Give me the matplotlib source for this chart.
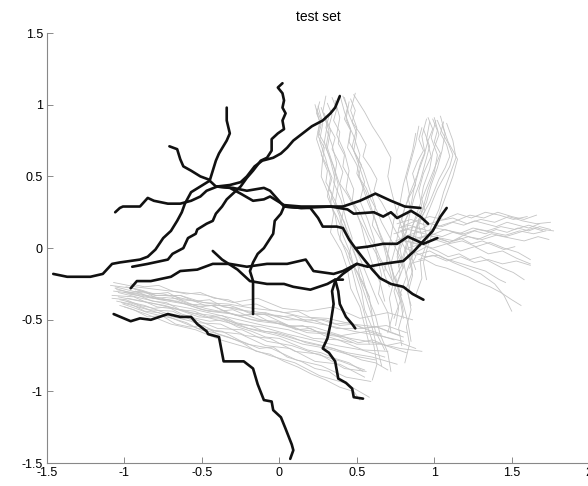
import matplotlib
matplotlib.use("Agg")
import matplotlib.pyplot as plt
from matplotlib.ticker import FormatStrFormatter

plt.rcParams['font.family'] = ['Liberation Sans', 'DejaVu Sans']

# training trajectories (grey) - lower band
gray_lower = [
    ([-1.07, -0.93, -0.78, -0.62, -0.47, -0.30, -0.14, 0.02, 0.18, 0.35, 0.52, 0.70, 0.86],
     [-0.24, -0.27, -0.29, -0.31, -0.33, -0.38, -0.35, -0.42, -0.44, -0.41, -0.49, -0.45, -0.50]),
    ([-1.05, -0.90, -0.76, -0.60, -0.44, -0.28, -0.10, 0.06, 0.22, 0.40, 0.57, 0.74],
     [-0.29, -0.32, -0.35, -0.39, -0.40, -0.47, -0.46, -0.54, -0.55, -0.61, -0.58, -0.64]),
    ([-1.08, -0.94, -0.79, -0.63, -0.48, -0.33, -0.17, -0.01, 0.15, 0.31, 0.47, 0.62],
     [-0.33, -0.34, -0.41, -0.43, -0.48, -0.52, -0.57, -0.61, -0.67, -0.70, -0.75, -0.78]),
    ([-1.02, -0.88, -0.72, -0.57, -0.41, -0.25, -0.09, 0.07, 0.23, 0.39, 0.55],
     [-0.38, -0.42, -0.47, -0.51, -0.58, -0.60, -0.68, -0.70, -0.79, -0.81, -0.90]),
    ([-1.00, -0.86, -0.70, -0.54, -0.38, -0.22, -0.06, 0.10, 0.26, 0.42, 0.58],
     [-0.41, -0.46, -0.53, -0.57, -0.64, -0.69, -0.75, -0.80, -0.89, -0.94, -1.04]),
    ([-1.06, -0.91, -0.75, -0.59, -0.43, -0.27, -0.11, 0.05, 0.21, 0.37, 0.53, 0.69, 0.82],
     [-0.27, -0.31, -0.32, -0.36, -0.39, -0.43, -0.45, -0.50, -0.50, -0.56, -0.56, -0.54, -0.59]),
    ([-1.04, -0.89, -0.73, -0.58, -0.42, -0.26, -0.10, 0.06, 0.22, 0.38, 0.54, 0.70],
     [-0.31, -0.35, -0.39, -0.42, -0.46, -0.50, -0.54, -0.57, -0.63, -0.64, -0.71, -0.72]),
    ([-0.98, -0.84, -0.68, -0.52, -0.36, -0.20, -0.04, 0.12, 0.28, 0.44, 0.60, 0.76],
     [-0.35, -0.38, -0.42, -0.48, -0.49, -0.56, -0.59, -0.64, -0.68, -0.73, -0.76, -0.81]),
    ([-1.03, -0.87, -0.72, -0.56, -0.40, -0.24, -0.08, 0.08, 0.24, 0.40, 0.55],
     [-0.36, -0.40, -0.46, -0.49, -0.56, -0.57, -0.65, -0.68, -0.74, -0.79, -0.85]),
    ([-0.95, -0.80, -0.64, -0.48, -0.32, -0.16, 0.00, 0.16, 0.32, 0.48, 0.64, 0.80],
     [-0.28, -0.33, -0.33, -0.40, -0.40, -0.46, -0.47, -0.51, -0.54, -0.58, -0.61, -0.65]),
    ([-1.01, -0.85, -0.69, -0.53, -0.37, -0.21, -0.05, 0.11, 0.27, 0.43, 0.59],
     [-0.39, -0.45, -0.49, -0.56, -0.58, -0.67, -0.70, -0.78, -0.82, -0.90, -0.93]),
    ([-1.07, -0.92, -0.77, -0.61, -0.46, -0.30, -0.14, 0.02, 0.18, 0.34, 0.50, 0.66, 0.82],
     [-0.30, -0.32, -0.36, -0.39, -0.44, -0.46, -0.51, -0.53, -0.59, -0.60, -0.67, -0.67, -0.73]),
    ([-0.97, -0.82, -0.66, -0.50, -0.34, -0.18, -0.02, 0.14, 0.30, 0.46, 0.62, 0.78, 0.92],
     [-0.32, -0.35, -0.37, -0.43, -0.45, -0.50, -0.51, -0.57, -0.59, -0.63, -0.66, -0.70, -0.72]),
    ([-1.09, -0.95, -0.80, -0.64, -0.49, -0.33, -0.17, -0.01, 0.15, 0.31, 0.47, 0.63, 0.78],
     [-0.26, -0.28, -0.33, -0.33, -0.38, -0.39, -0.42, -0.44, -0.48, -0.49, -0.53, -0.55, -0.61]),
    ([-0.99, -0.84, -0.69, -0.53, -0.38, -0.22, -0.06, 0.10, 0.26, 0.42, 0.56],
     [-0.37, -0.43, -0.44, -0.52, -0.53, -0.61, -0.63, -0.72, -0.74, -0.84, -0.86]),
    ([-1.04, -0.90, -0.74, -0.58, -0.43, -0.27, -0.11, 0.05, 0.21, 0.37, 0.53, 0.68],
     [-0.34, -0.37, -0.40, -0.45, -0.47, -0.53, -0.55, -0.60, -0.64, -0.68, -0.71, -0.76]),
    ([-1.06, -0.97, -0.88, -0.79, -0.70, -0.61, -0.52, -0.43, -0.34, -0.25, -0.16, -0.07, 0.02,
      0.11, 0.20, 0.29, 0.38, 0.47],
     [-0.28, -0.31, -0.30, -0.35, -0.34, -0.38, -0.41, -0.40, -0.45, -0.47, -0.46, -0.51, -0.53,
      -0.57, -0.56, -0.61, -0.64, -0.66]),
    ([-1.03, -0.94, -0.85, -0.76, -0.67, -0.58, -0.49, -0.40, -0.31, -0.22, -0.13, -0.04, 0.05,
      0.14, 0.23, 0.32, 0.41],
     [-0.40, -0.43, -0.48, -0.47, -0.53, -0.55, -0.54, -0.60, -0.63, -0.66, -0.70, -0.69, -0.76,
      -0.79, -0.84, -0.86, -0.93]),
    ([-0.96, -0.87, -0.78, -0.69, -0.60, -0.51, -0.42, -0.33, -0.24, -0.15, -0.06, 0.03, 0.12,
      0.21, 0.30, 0.39, 0.48, 0.57, 0.66],
     [-0.25, -0.27, -0.26, -0.30, -0.32, -0.31, -0.35, -0.36, -0.40, -0.39, -0.43, -0.45, -0.44,
      -0.49, -0.50, -0.54, -0.53, -0.57, -0.60]),
    ([-1.08, -0.99, -0.90, -0.81, -0.72, -0.63, -0.54, -0.45, -0.36, -0.27, -0.18, -0.09, 0.00,
      0.09, 0.18, 0.27, 0.36, 0.45, 0.54],
     [-0.35, -0.36, -0.40, -0.42, -0.41, -0.46, -0.49, -0.51, -0.50, -0.55, -0.58, -0.62, -0.63,
      -0.67, -0.71, -0.73, -0.77, -0.80, -0.86]),
    ([-1.00, -0.91, -0.82, -0.73, -0.64, -0.55, -0.46, -0.37, -0.28, -0.19, -0.10, -0.01, 0.08,
      0.17, 0.26, 0.35, 0.44, 0.53, 0.62, 0.70],
     [-0.31, -0.33, -0.37, -0.38, -0.43, -0.44, -0.48, -0.47, -0.52, -0.54, -0.58, -0.59, -0.62,
      -0.66, -0.68, -0.70, -0.74, -0.78, -0.80, -0.85]),
    ([-0.93, -0.84, -0.75, -0.66, -0.57, -0.48, -0.39, -0.30, -0.21, -0.12, -0.03, 0.06, 0.15,
      0.24, 0.33, 0.42, 0.51, 0.60, 0.69, 0.78, 0.88],
     [-0.30, -0.34, -0.36, -0.35, -0.39, -0.42, -0.44, -0.43, -0.47, -0.50, -0.52, -0.55, -0.54,
      -0.58, -0.61, -0.62, -0.66, -0.64, -0.68, -0.66, -0.70]),
    ([-1.05, -0.96, -0.87, -0.78, -0.69, -0.60, -0.51, -0.42, -0.33, -0.24, -0.15, -0.06, 0.03,
      0.12, 0.21, 0.30, 0.39, 0.48, 0.52],
     [-0.37, -0.39, -0.44, -0.45, -0.49, -0.52, -0.57, -0.59, -0.62, -0.66, -0.72, -0.74, -0.79,
      -0.83, -0.88, -0.92, -0.97, -1.00, -1.06]),
    ([-0.99, -0.90, -0.81, -0.72, -0.63, -0.54, -0.45, -0.36, -0.27, -0.18, -0.09, 0.00, 0.09,
      0.18, 0.27, 0.36, 0.45, 0.54, 0.63, 0.72, 0.80],
     [-0.27, -0.29, -0.32, -0.31, -0.36, -0.37, -0.36, -0.41, -0.42, -0.46, -0.45, -0.48, -0.47,
      -0.51, -0.50, -0.53, -0.52, -0.56, -0.55, -0.59, -0.62]),
]

# V-shaped class, left arm
gray_v_left = [
    ([0.30, 0.28, 0.32, 0.30, 0.35, 0.38, 0.36, 0.42, 0.45, 0.50, 0.52, 0.58, 0.60],
     [1.06, 0.95, 0.82, 0.70, 0.57, 0.44, 0.31, 0.18, 0.05, -0.08, -0.21, -0.34, -0.47]),
    ([0.49, 0.46, 0.50, 0.47, 0.51, 0.55, 0.52, 0.57, 0.61, 0.63, 0.66, 0.64, 0.70, 0.72],
     [1.08, 0.96, 0.84, 0.71, 0.59, 0.46, 0.33, 0.20, 0.07, -0.06, -0.19, -0.32, -0.45, -0.58]),
    ([0.23, 0.26, 0.24, 0.28, 0.27, 0.32, 0.35, 0.33, 0.40, 0.44, 0.46, 0.52, 0.55, 0.58],
     [1.00, 0.88, 0.76, 0.63, 0.50, 0.37, 0.24, 0.11, -0.02, -0.15, -0.28, -0.41, -0.54, -0.67]),
    ([0.36, 0.39, 0.37, 0.42, 0.45, 0.43, 0.49, 0.53, 0.56, 0.60, 0.65, 0.68],
     [1.03, 0.91, 0.79, 0.67, 0.54, 0.41, 0.28, 0.15, 0.02, -0.11, -0.24, -0.37]),
    ([0.27, 0.31, 0.29, 0.33, 0.36, 0.34, 0.39, 0.41, 0.46, 0.49, 0.53, 0.55, 0.60, 0.63, 0.66],
     [0.98, 0.86, 0.74, 0.61, 0.48, 0.35, 0.22, 0.09, -0.04, -0.17, -0.30, -0.43, -0.56, -0.69, -0.82]),
    ([0.42, 0.45, 0.50, 0.48, 0.54, 0.58, 0.62, 0.60, 0.67, 0.70, 0.73, 0.78, 0.80],
     [1.05, 0.93, 0.80, 0.68, 0.55, 0.42, 0.29, 0.16, 0.03, -0.10, -0.23, -0.36, -0.49]),
    ([0.33, 0.30, 0.34, 0.37, 0.35, 0.40, 0.43, 0.47, 0.45, 0.51, 0.55, 0.59, 0.62, 0.68],
     [0.96, 0.84, 0.72, 0.59, 0.46, 0.33, 0.20, 0.07, -0.06, -0.19, -0.32, -0.45, -0.58, -0.71]),
    ([0.39, 0.42, 0.46, 0.44, 0.50, 0.53, 0.57, 0.62, 0.66, 0.71, 0.74, 0.79],
     [1.07, 0.95, 0.83, 0.70, 0.58, 0.45, 0.32, 0.19, 0.06, -0.07, -0.20, -0.33]),
    ([0.25, 0.28, 0.26, 0.30, 0.33, 0.31, 0.36, 0.38, 0.43, 0.47, 0.50, 0.54, 0.57, 0.61, 0.63, 0.60],
     [0.99, 0.87, 0.75, 0.62, 0.49, 0.36, 0.23, 0.10, -0.03, -0.16, -0.29, -0.42, -0.55, -0.68, -0.81, -0.92]),
    ([0.45, 0.43, 0.48, 0.52, 0.50, 0.56, 0.60, 0.64, 0.69, 0.72, 0.76, 0.80, 0.83, 0.85],
     [1.02, 0.90, 0.78, 0.65, 0.52, 0.39, 0.26, 0.13, 0.00, -0.13, -0.26, -0.39, -0.52, -0.65]),
    ([0.29, 0.33, 0.31, 0.35, 0.39, 0.42, 0.40, 0.46, 0.50, 0.54, 0.57, 0.62, 0.65, 0.70, 0.72],
     [0.94, 0.82, 0.70, 0.57, 0.44, 0.31, 0.18, 0.05, -0.08, -0.21, -0.34, -0.47, -0.60, -0.73, -0.86]),
    ([0.48, 0.55, 0.60, 0.66, 0.72, 0.70, 0.73, 0.76, 0.80, 0.84, 0.88],
     [1.07, 0.95, 0.85, 0.75, 0.63, 0.50, 0.37, 0.24, 0.11, -0.02, -0.15]),
    ([0.26, 0.24, 0.27, 0.25, 0.29, 0.28, 0.31, 0.30, 0.34, 0.33, 0.37, 0.40, 0.39, 0.44, 0.47,
      0.51, 0.55, 0.58],
     [1.02, 0.94, 0.86, 0.78, 0.70, 0.62, 0.54, 0.46, 0.38, 0.30, 0.22, 0.14, 0.06, -0.02, -0.10,
      -0.18, -0.26, -0.34]),
    ([0.34, 0.37, 0.35, 0.39, 0.38, 0.42, 0.41, 0.45, 0.48, 0.47, 0.52, 0.55, 0.58, 0.62, 0.65,
      0.69, 0.73],
     [1.05, 0.97, 0.89, 0.81, 0.73, 0.65, 0.57, 0.49, 0.41, 0.33, 0.25, 0.17, 0.09, 0.01, -0.07,
      -0.15, -0.23]),
    ([0.41, 0.44, 0.42, 0.46, 0.45, 0.49, 0.53, 0.51, 0.56, 0.59, 0.63, 0.66, 0.70, 0.74, 0.78, 0.80],
     [1.06, 0.98, 0.90, 0.82, 0.74, 0.66, 0.58, 0.50, 0.42, 0.34, 0.26, 0.18, 0.10, 0.02, -0.06, -0.14]),
    ([0.24, 0.27, 0.25, 0.29, 0.27, 0.31, 0.34, 0.32, 0.36, 0.39, 0.42, 0.45, 0.48, 0.52, 0.55,
      0.58, 0.61, 0.64],
     [0.97, 0.89, 0.81, 0.73, 0.65, 0.57, 0.49, 0.41, 0.33, 0.25, 0.17, 0.09, 0.01, -0.07, -0.15,
      -0.23, -0.31, -0.39]),
    ([0.46, 0.49, 0.47, 0.52, 0.56, 0.54, 0.59, 0.63, 0.61, 0.66, 0.70, 0.73, 0.77, 0.81, 0.84],
     [1.04, 0.96, 0.88, 0.80, 0.72, 0.64, 0.56, 0.48, 0.40, 0.32, 0.24, 0.16, 0.08, 0.00, -0.08]),
    ([0.31, 0.34, 0.32, 0.36, 0.34, 0.38, 0.41, 0.39, 0.44, 0.48, 0.51, 0.55, 0.58, 0.62, 0.66,
      0.68, 0.71],
     [1.01, 0.93, 0.85, 0.77, 0.69, 0.61, 0.53, 0.45, 0.37, 0.29, 0.21, 0.13, 0.05, -0.03, -0.11,
      -0.19, -0.27]),
]

# V-shaped class, right arm
gray_v_right = [
    ([1.04, 1.07, 1.05, 1.02, 0.98, 0.95, 0.90, 0.88, 0.84, 0.86, 0.82, 0.85],
     [0.92, 0.80, 0.68, 0.56, 0.44, 0.32, 0.20, 0.08, -0.04, -0.16, -0.28, -0.40]),
    ([0.95, 0.92, 0.94, 0.90, 0.87, 0.85, 0.81, 0.79, 0.76, 0.78, 0.74, 0.77, 0.75],
     [0.90, 0.78, 0.66, 0.54, 0.42, 0.30, 0.18, 0.06, -0.06, -0.18, -0.30, -0.42, -0.54]),
    ([1.08, 1.12, 1.14, 1.10, 1.06, 1.03, 0.98, 0.95, 0.91, 0.92, 0.88],
     [0.87, 0.75, 0.63, 0.51, 0.39, 0.27, 0.15, 0.03, -0.09, -0.21, -0.33]),
    ([0.90, 0.88, 0.85, 0.82, 0.84, 0.80, 0.77, 0.75, 0.72, 0.74, 0.71, 0.73, 0.70],
     [0.85, 0.73, 0.61, 0.49, 0.37, 0.25, 0.13, 0.01, -0.11, -0.23, -0.35, -0.47, -0.59]),
    ([1.00, 1.03, 0.99, 0.97, 0.93, 0.91, 0.87, 0.84, 0.86, 0.82, 0.84],
     [0.91, 0.79, 0.67, 0.55, 0.43, 0.31, 0.19, 0.07, -0.05, -0.17, -0.29]),
    ([0.97, 0.95, 0.98, 0.93, 0.90, 0.92, 0.86, 0.83, 0.80, 0.82, 0.78, 0.80, 0.77, 0.79],
     [0.88, 0.76, 0.64, 0.52, 0.40, 0.28, 0.16, 0.04, -0.08, -0.20, -0.32, -0.44, -0.56, -0.68]),
    ([1.05, 1.09, 1.15, 1.12, 1.08, 1.04, 1.00, 0.96, 0.93, 0.95],
     [0.86, 0.74, 0.62, 0.50, 0.38, 0.26, 0.14, 0.02, -0.10, -0.22]),
    ([0.93, 0.97, 0.94, 0.91, 0.87, 0.84, 0.82, 0.78, 0.80, 0.76, 0.78, 0.74],
     [0.83, 0.71, 0.59, 0.47, 0.35, 0.23, 0.11, -0.01, -0.13, -0.25, -0.37, -0.49]),
    ([1.01, 0.98, 1.02, 1.00, 0.96, 0.93, 0.89, 0.86, 0.84, 0.86, 0.83, 0.85, 0.82, 0.84, 0.81],
     [0.89, 0.77, 0.65, 0.53, 0.41, 0.29, 0.17, 0.05, -0.07, -0.19, -0.31, -0.43, -0.55, -0.67, -0.80]),
    ([0.88, 0.86, 0.83, 0.80, 0.78, 0.74, 0.72, 0.70, 0.68],
     [0.80, 0.68, 0.56, 0.44, 0.32, 0.20, 0.08, -0.04, -0.16]),
    ([0.99, 1.02, 1.00, 1.04, 1.01, 0.98, 0.95, 0.92, 0.94, 0.90, 0.87, 0.85, 0.88, 0.84],
     [0.90, 0.82, 0.74, 0.66, 0.58, 0.50, 0.42, 0.34, 0.26, 0.18, 0.10, 0.02, -0.06, -0.14]),
    ([1.06, 1.04, 1.08, 1.10, 1.07, 1.03, 1.00, 0.97, 0.93, 0.90, 0.92, 0.88, 0.85],
     [0.88, 0.80, 0.72, 0.64, 0.56, 0.48, 0.40, 0.32, 0.24, 0.16, 0.08, 0.00, -0.08]),
    ([0.92, 0.90, 0.93, 0.89, 0.86, 0.88, 0.84, 0.81, 0.79, 0.82, 0.78, 0.76, 0.79, 0.75, 0.77],
     [0.84, 0.76, 0.68, 0.60, 0.52, 0.44, 0.36, 0.28, 0.20, 0.12, 0.04, -0.04, -0.12, -0.20, -0.28]),
    ([1.02, 1.05, 1.09, 1.12, 1.10, 1.06, 1.02, 0.99, 0.96, 0.93, 0.95, 0.91],
     [0.89, 0.81, 0.73, 0.65, 0.57, 0.49, 0.41, 0.33, 0.25, 0.17, 0.09, 0.01]),
    ([0.96, 0.99, 0.96, 0.94, 0.91, 0.89, 0.86, 0.83, 0.85, 0.81, 0.79, 0.82, 0.80, 0.77],
     [0.91, 0.83, 0.75, 0.67, 0.59, 0.51, 0.43, 0.35, 0.27, 0.19, 0.11, 0.03, -0.05, -0.13]),
]

# horizontal class on the right
gray_right = [
    ([0.76, 0.85, 0.94, 1.03, 1.12, 1.21, 1.30, 1.39, 1.48, 1.57, 1.66, 1.75],
     [0.17, 0.20, 0.16, 0.19, 0.21, 0.17, 0.20, 0.18, 0.22, 0.19, 0.17, 0.18]),
    ([0.80, 0.89, 0.98, 1.07, 1.16, 1.25, 1.34, 1.43, 1.52, 1.61, 1.70, 1.77],
     [0.08, 0.11, 0.09, 0.13, 0.10, 0.14, 0.12, 0.15, 0.13, 0.16, 0.13, 0.12]),
    ([0.72, 0.81, 0.90, 0.99, 1.08, 1.17, 1.26, 1.35, 1.44, 1.53, 1.62],
     [0.02, 0.05, 0.03, 0.00, 0.03, -0.02, 0.01, -0.04, -0.02, -0.07, -0.11]),
    ([0.85, 0.94, 1.03, 1.12, 1.21, 1.30, 1.39, 1.45, 1.50],
     [-0.02, -0.06, -0.05, -0.10, -0.14, -0.18, -0.25, -0.33, -0.44]),
    ([0.78, 0.87, 0.96, 1.05, 1.14, 1.23, 1.32, 1.41, 1.50, 1.58, 1.66],
     [0.12, 0.15, 0.12, 0.16, 0.19, 0.23, 0.21, 0.25, 0.22, 0.20, 0.23]),
    ([0.82, 0.91, 1.00, 1.09, 1.18, 1.27, 1.36, 1.45, 1.54, 1.62],
     [0.05, 0.02, 0.06, 0.03, 0.05, 0.01, 0.04, 0.00, -0.03, -0.08]),
    ([0.74, 0.83, 0.92, 1.01, 1.10, 1.19, 1.28, 1.37, 1.46, 1.55, 1.64, 1.72],
     [0.10, 0.13, 0.11, 0.14, 0.12, 0.10, 0.13, 0.11, 0.09, 0.12, 0.10, 0.12]),
    ([0.88, 0.97, 1.06, 1.15, 1.24, 1.33, 1.42, 1.46],
     [-0.05, -0.02, -0.07, -0.10, -0.13, -0.16, -0.22, -0.24]),
    ([0.79, 0.88, 0.97, 1.06, 1.15, 1.24, 1.33, 1.42, 1.51, 1.60],
     [0.15, 0.19, 0.22, 0.20, 0.24, 0.21, 0.25, 0.23, 0.20, 0.22]),
    ([0.86, 0.95, 1.04, 1.13, 1.22, 1.31, 1.40, 1.49, 1.58, 1.67, 1.74],
     [0.06, 0.09, 0.07, 0.05, 0.08, 0.06, 0.09, 0.07, 0.05, 0.08, 0.06]),
    ([0.90, 0.99, 1.08, 1.17, 1.26, 1.35, 1.44, 1.53, 1.62],
     [-0.08, -0.05, -0.09, -0.06, -0.10, -0.08, -0.11, -0.09, -0.12]),
    ([0.83, 0.92, 1.01, 1.10, 1.19, 1.28, 1.37, 1.46, 1.55, 1.64, 1.70],
     [0.00, 0.03, 0.07, 0.04, 0.09, 0.06, 0.10, 0.08, 0.11, 0.14, 0.12]),
    ([0.77, 0.84, 0.91, 0.98, 1.05, 1.12, 1.19, 1.26, 1.33, 1.40, 1.47, 1.54, 1.61, 1.68],
     [0.14, 0.16, 0.13, 0.17, 0.15, 0.18, 0.16, 0.19, 0.17, 0.15, 0.18, 0.16, 0.14, 0.17]),
    ([0.81, 0.88, 0.95, 1.02, 1.09, 1.16, 1.23, 1.30, 1.37, 1.44, 1.51, 1.58],
     [0.00, -0.03, 0.01, -0.02, -0.06, -0.04, -0.08, -0.06, -0.10, -0.14, -0.17, -0.22]),
    ([0.84, 0.91, 0.98, 1.05, 1.12, 1.19, 1.26, 1.33, 1.40, 1.47, 1.54, 1.61, 1.68, 1.75],
     [0.09, 0.07, 0.10, 0.08, 0.11, 0.09, 0.12, 0.10, 0.13, 0.11, 0.14, 0.12, 0.15, 0.13]),
    ([0.75, 0.82, 0.89, 0.96, 1.03, 1.10, 1.17, 1.24, 1.31, 1.38, 1.45, 1.52],
     [0.05, 0.08, 0.06, 0.09, 0.07, 0.04, 0.07, 0.03, 0.05, 0.02, -0.01, 0.01]),
    ([0.87, 0.94, 1.01, 1.08, 1.15, 1.22, 1.29, 1.36, 1.43, 1.50, 1.56],
     [-0.10, -0.08, -0.12, -0.14, -0.17, -0.20, -0.24, -0.27, -0.31, -0.36, -0.40]),
]

# test set trajectories (black)
black_paths = [
    ([-1.46, -1.37, -1.22, -1.14, -1.08, -1.03, -0.90, -0.85, -0.80, -0.75, -0.70, -0.66, -0.63,
      -0.61, -0.57, -0.51, -0.45, -0.43, -0.41, -0.39, -0.34, -0.32, -0.34, -0.34],
     [-0.18, -0.20, -0.20, -0.18, -0.11, -0.10, -0.08, -0.06, -0.01, 0.07, 0.12, 0.19, 0.25,
      0.31, 0.39, 0.43, 0.47, 0.54, 0.61, 0.66, 0.75, 0.80, 0.89, 0.98]),
    ([-0.95, -0.85, -0.72, -0.69, -0.62, -0.59, -0.54, -0.53, -0.47, -0.43, -0.41, -0.37, -0.34,
      -0.25, -0.21, -0.17, -0.12, -0.08, -0.05, -0.05, -0.01, 0.03, 0.02, 0.04, 0.02, 0.03,
      0.02, -0.01, 0.02],
     [-0.13, -0.11, -0.08, -0.04, 0.00, 0.07, 0.10, 0.13, 0.17, 0.19, 0.24, 0.29, 0.34,
      0.43, 0.49, 0.54, 0.61, 0.63, 0.68, 0.76, 0.80, 0.83, 0.89, 0.94, 0.98, 1.03,
      1.08, 1.12, 1.15]),
    ([-1.06, -1.03, -1.01, -0.90, -0.85, -0.81, -0.72, -0.64, -0.57, -0.51, -0.47, -0.40, -0.32,
      -0.25, -0.21, -0.16, -0.11, -0.04, 0.01, 0.05, 0.09, 0.15, 0.21, 0.28, 0.33, 0.36, 0.39],
     [0.25, 0.28, 0.29, 0.29, 0.35, 0.33, 0.31, 0.31, 0.33, 0.36, 0.40, 0.43, 0.44,
      0.46, 0.50, 0.57, 0.61, 0.63, 0.66, 0.70, 0.75, 0.80, 0.85, 0.89, 0.94, 0.98, 1.06]),
    ([-0.71, -0.66, -0.64, -0.62, -0.57, -0.51, -0.46, -0.41, -0.32, -0.25, -0.17, -0.10, -0.06,
      0.03, 0.14, 0.26, 0.41, 0.52, 0.62, 0.72, 0.81, 0.91],
     [0.71, 0.69, 0.62, 0.57, 0.54, 0.50, 0.48, 0.43, 0.42, 0.38, 0.33, 0.34, 0.36,
      0.30, 0.29, 0.29, 0.29, 0.33, 0.38, 0.33, 0.29, 0.28]),
    ([-0.41, -0.30, -0.21, -0.10, -0.06, 0.03, 0.14, 0.33, 0.44, 0.48, 0.61, 0.67, 0.72,
      0.76, 0.85, 0.91, 0.96],
     [0.43, 0.42, 0.40, 0.42, 0.40, 0.29, 0.28, 0.29, 0.27, 0.24, 0.25, 0.22, 0.25,
      0.21, 0.26, 0.22, 0.17]),
    ([0.03, 0.14, 0.20, 0.25, 0.28, 0.37, 0.41, 0.45, 0.49, 0.57, 0.67, 0.76, 0.83, 0.93, 1.02],
     [0.29, 0.28, 0.28, 0.21, 0.15, 0.15, 0.14, 0.06, 0.00, 0.01, 0.03, 0.03, 0.08, 0.03, 0.07]),
    ([0.49, 0.54, 0.60, 0.65, 0.72, 0.80, 0.86, 0.93],
     [0.00, -0.07, -0.15, -0.21, -0.25, -0.27, -0.32, -0.36]),
    ([0.03, 0.01, -0.03, -0.04, -0.10, -0.14, -0.17, -0.19, -0.17, -0.17, -0.17, -0.17],
     [0.29, 0.24, 0.19, 0.10, 0.00, -0.04, -0.10, -0.16, -0.23, -0.32, -0.39, -0.46]),
    ([-0.43, -0.37, -0.27, -0.19, -0.08, 0.03, 0.09, 0.20, 0.31, 0.36, 0.41],
     [-0.02, -0.08, -0.15, -0.23, -0.25, -0.25, -0.27, -0.29, -0.25, -0.22, -0.22]),
    ([-0.96, -0.92, -0.83, -0.70, -0.64, -0.53, -0.43, -0.32, -0.21, -0.08, 0.05, 0.17, 0.22,
      0.35, 0.41, 0.50, 0.57, 0.67, 0.80, 0.87, 0.93, 0.99, 1.04, 1.08],
     [-0.28, -0.23, -0.23, -0.20, -0.16, -0.15, -0.11, -0.11, -0.13, -0.11, -0.11, -0.08, -0.16,
      -0.18, -0.16, -0.11, -0.13, -0.11, -0.09, -0.02, 0.05, 0.12, 0.22, 0.28]),
    ([0.50, 0.41, 0.36, 0.34, 0.35, 0.33, 0.31, 0.28, 0.32, 0.36, 0.38, 0.43, 0.47, 0.48, 0.54],
     [-0.11, -0.18, -0.23, -0.30, -0.39, -0.53, -0.63, -0.70, -0.73, -0.79, -0.91, -0.94, -0.98,
      -1.04, -1.05]),
    ([0.36, 0.38, 0.39, 0.43, 0.47, 0.49],
     [-0.22, -0.30, -0.39, -0.48, -0.53, -0.56]),
    ([-1.07, -0.96, -0.90, -0.83, -0.72, -0.64, -0.57, -0.53, -0.47, -0.46, -0.39, -0.36, -0.23,
      -0.17, -0.14, -0.10, -0.05, -0.04, 0.01, 0.04, 0.08, 0.09, 0.07],
     [-0.46, -0.51, -0.49, -0.50, -0.46, -0.48, -0.48, -0.53, -0.58, -0.60, -0.62, -0.79, -0.79,
      -0.84, -0.95, -1.06, -1.07, -1.13, -1.18, -1.26, -1.37, -1.41, -1.47]),
]

fig = plt.figure(figsize=(5.88, 4.86), dpi=100)
ax = fig.add_axes([0.080, 0.047, 0.922, 0.885])

for xs, ys in gray_lower + gray_v_left + gray_v_right + gray_right:
    ax.plot(xs, ys, color='#c4c4c4', lw=0.6)

for xs, ys in black_paths:
    ax.plot(xs, ys, color='#111111', lw=1.9, solid_joinstyle='round', solid_capstyle='round')

ax.set_xlim(-1.5, 2)
ax.set_ylim(-1.5, 1.5)
ax.set_xticks([-1.5, -1, -0.5, 0, 0.5, 1, 1.5, 2])
ax.set_yticks([-1.5, -1, -0.5, 0, 0.5, 1, 1.5])
ax.xaxis.set_major_formatter(FormatStrFormatter('%g'))
ax.yaxis.set_major_formatter(FormatStrFormatter('%g'))
ax.tick_params(direction='in', length=4, width=0.6, color='#777777', labelsize=9, pad=3)
for side in ['top', 'right']:
    ax.spines[side].set_visible(False)
for side in ['left', 'bottom']:
    ax.spines[side].set_color('#888888')
    ax.spines[side].set_linewidth(0.8)

ax.set_title('test set', fontsize=10, pad=9)

plt.savefig('out.png', dpi=100)
